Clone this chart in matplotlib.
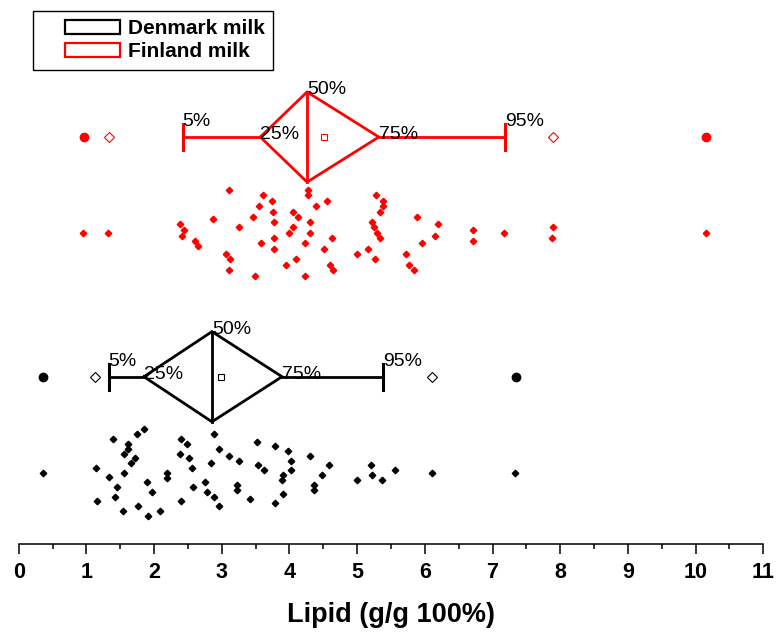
import matplotlib
matplotlib.use('Agg')
import matplotlib.pyplot as plt
from matplotlib.patches import Rectangle
from matplotlib.legend_handler import HandlerPatch
from matplotlib.ticker import MultipleLocator

plt.rcParams['font.family'] = ['Liberation Sans', 'DejaVu Sans']

# box statistics: 1%, 5%, 25%, 50%, 75%, 95%, 99%, mean, min, max
denmark_stats = {'p1': 1.13, 'p5': 1.33, 'p25': 1.85, 'p50': 2.855, 'p75': 3.89,
                 'p95': 5.38, 'p99': 6.11, 'mean': 2.99, 'min': 0.36, 'max': 7.34}
finland_stats = {'p1': 1.33, 'p5': 2.42, 'p25': 3.57, 'p50': 4.26, 'p75': 5.32,
                 'p95': 7.18, 'p99': 7.89, 'mean': 4.51, 'min': 0.965, 'max': 10.15}

# raw values (x) and their vertical jitter as drawn
denmark_x = [0.363, 1.142, 1.157, 1.329, 1.388, 1.448, 1.427, 1.541, 1.555, 1.555,
             1.610, 1.619, 1.654, 1.718, 1.743, 1.851, 1.758, 1.895, 1.910, 1.969,
             2.092, 2.195, 2.186, 2.393, 2.482, 2.383, 2.511, 2.555, 2.397, 2.575,
             2.756, 2.786, 2.880, 2.954, 2.845, 2.880, 2.963, 3.111, 3.258, 3.229,
             3.220, 3.412, 3.516, 3.535, 3.628, 3.786, 3.786, 3.900, 3.885, 3.900,
             3.973, 4.018, 4.027, 4.298, 4.366, 4.357, 4.484, 4.588, 4.997, 5.204,
             5.223, 5.371, 5.558, 6.109, 7.335]
denmark_jit = [0, 0.21, -1.19, -0.20, 1.39, -0.60, -1.00, -1.60, 0, 0.79,
               1.19, 0.98, 0.40, 0.60, 1.60, 1.81, -1.41, -0.40, -1.81, -0.79,
               -1.60, 0, -0.21, 1.39, 1.19, 0.79, 0.60, 0.19, -1.20, -0.60,
               -0.40, -0.79, -1.00, -1.41, 0.40, 1.60, 0.98, 0.69, 0.48, -0.50,
               -0.71, -1.10, 1.29, 0.30, 0.10, 1.10, -1.29, -0.10, -0.31, -0.91,
               0.89, 0.50, 0.10, 0.69, -0.50, -0.71, -0.10, 0.30, -0.29, 0.30,
               -0.10, -0.29, 0.10, 0, 0]

finland_x = [0.954, 1.323, 3.111, 2.378, 2.437, 2.412, 2.604, 2.644, 2.874, 3.062,
             3.126, 3.102, 3.250, 3.465, 3.486, 3.554, 3.613, 3.737, 3.752, 3.767,
             3.767, 3.776, 3.579, 3.953, 3.988, 4.052, 4.052, 4.092, 4.121, 4.225,
             4.233, 4.269, 4.269, 4.298, 4.298, 4.387, 4.514, 4.554, 4.598, 4.638,
             4.632, 4.993, 5.155, 5.263, 5.223, 5.244, 5.292, 5.332, 5.282, 5.377,
             5.386, 5.332, 5.883, 6.193, 6.145, 5.962, 5.716, 5.761, 5.843, 6.706,
             6.715, 7.173, 7.892, 7.873, 10.148]
finland_jit = [0, 0, 1.78, 0.35, 0.11, -0.13, -0.33, -0.55, 0.56, -0.89,
               -1.11, -1.56, 0.23, 0.67, -1.79, 1.11, 1.57, 1.33, 0.89, 0.45,
               -0.23, -0.67, -0.44, -1.35, 0, 0.89, 0.23, -1.11, 0.67, -0.44,
               -1.79, 1.78, 1.57, 0.45, 0, 1.11, -0.67, 1.33, -1.33, -1.56,
               -0.22, -0.89, -0.67, -1.11, 0.45, 0.23, 0, -0.22, 1.57, 1.33,
               1.11, 0.89, 0.67, 0.35, -0.11, -0.44, -0.89, -1.33, -1.56, 0.11,
               -0.33, 0, 0.23, -0.22, 0]

groups = ['Denmark milk', 'Finland milk']
colors = ['black', 'red']
box_pos = [10, 20]
h = 1.88      # diamond half height
cap = 0.54    # whisker cap half height
shift = 4.0   # raw data drawn below the box

fig = plt.figure(figsize=(7.77, 6.34), dpi=100)
ax = fig.add_axes([0.02407, 0.14196, 0.9583, 0.8423])

handles = []
for stats, xs, js, c, y, name in zip([denmark_stats, finland_stats],
                                     [denmark_x, finland_x],
                                     [denmark_jit, finland_jit],
                                     colors, box_pos, groups):
    lw = 2.0
    # whiskers
    ax.plot([stats['p5'], stats['p25']], [y, y], color=c, lw=lw)
    ax.plot([stats['p75'], stats['p95']], [y, y], color=c, lw=lw)
    ax.plot([stats['p5'], stats['p5']], [y - cap, y + cap], color=c, lw=2.2)
    ax.plot([stats['p95'], stats['p95']], [y - cap, y + cap], color=c, lw=2.2)
    # diamond box
    ax.plot([stats['p25'], stats['p50'], stats['p75'], stats['p50'], stats['p25']],
            [y, y + h, y, y - h, y], color=c, lw=lw, solid_joinstyle='miter')
    ax.plot([stats['p50'], stats['p50']], [y - h, y + h], color=c, lw=lw)
    # mean, 1%/99%, min/max
    ax.plot(stats['mean'], y, 's', ms=4.5, mfc='white', mec=c, mew=0.8)
    ax.plot([stats['p1'], stats['p99']], [y, y], 'D', ls='none', ms=4.6,
            mfc='white', mec=c, mew=0.8)
    ax.plot([stats['min'], stats['max']], [y, y], 'o', ls='none', ms=6,
            color=c)
    # percentile labels
    dy = -0.08
    fs = 14
    ax.text(stats['p5'], y + cap + dy, '5%', fontsize=fs, ha='left', va='baseline')
    ax.text(stats['p25'], y + dy, '25%', fontsize=fs, ha='left', va='baseline')
    ax.text(stats['p50'], y + h + dy, '50%', fontsize=fs, ha='left', va='baseline')
    ax.text(stats['p75'], y + dy, '75%', fontsize=fs, ha='left', va='baseline')
    ax.text(stats['p95'], y + cap + dy, '95%', fontsize=fs, ha='left', va='baseline')
    # raw data
    ax.plot(xs, [y - shift + j for j in js], 'D', ls='none', ms=3.3, color=c)
    handles.append(Rectangle((0, 0), 1, 1, facecolor='white', edgecolor=c, lw=1.6))

ax.set_xlim(0, 11)
ax.set_ylim(3.02, 25.3)
ax.xaxis.set_major_locator(MultipleLocator(1))
ax.xaxis.set_minor_locator(MultipleLocator(0.5))
ax.tick_params(axis='x', which='major', direction='out', length=7, width=1.1, pad=6,
               labelsize=15.5)
ax.tick_params(axis='x', which='minor', direction='out', length=3.6, width=1.1)
for lab in ax.get_xticklabels():
    lab.set_fontweight('bold')
ax.set_yticks([])
for s in ['left', 'right', 'top']:
    ax.spines[s].set_visible(False)
ax.spines['bottom'].set_linewidth(1.1)
ax.set_xlabel('Lipid (g/g 100%)', fontsize=19.5, fontweight='bold', labelpad=14)


def make_box(legend, orig_handle, xdescent, ydescent, width, height, fontsize):
    return Rectangle((-xdescent + width * 0.29, -ydescent), width * 0.71, height)


leg = ax.legend(handles, groups, loc='upper left',
                bbox_to_anchor=(33 / 777, 1 - 10.5 / 634),
                bbox_transform=fig.transFigure, borderaxespad=0,
                prop={'weight': 'bold', 'size': 15}, handlelength=3.78,
                handleheight=0.67, handletextpad=0.34, labelspacing=0.2,
                borderpad=0.42, fancybox=False, framealpha=1,
                handler_map={Rectangle: HandlerPatch(patch_func=make_box)})
leg.get_frame().set_edgecolor('black')
leg.get_frame().set_linewidth(1.0)

fig.savefig('out.png', dpi=100)
